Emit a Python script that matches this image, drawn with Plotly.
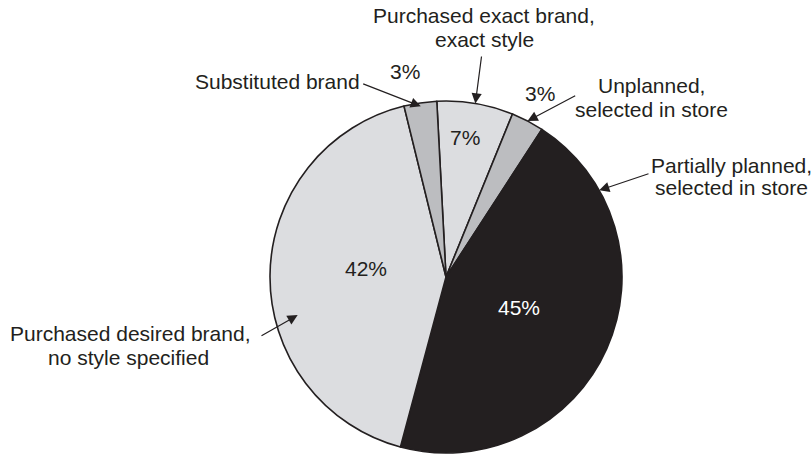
import math
import plotly.graph_objects as go

W, H = 811, 458

# Slices, listed clockwise starting just left of 12 o'clock
categories = [
    "Purchased exact brand, exact style",
    "Unplanned, selected in store",
    "Partially planned, selected in store",
    "Purchased desired brand, no style specified",
    "Substituted brand",
]
shares = [7, 3, 45, 42, 3]

# Text lines of each category callout
callout_lines = [
    ["Purchased exact brand,", "exact style"],
    ["Unplanned,", "selected in store"],
    ["Partially planned,", "selected in store"],
    ["Purchased desired brand,", "no style specified"],
    ["Substituted brand"],
]

# ---- styling / geometry -------------------------------------------------
INK = "#231f20"
fills = ["#dcdde0", "#bcbdc0", INK, "#dcdde0", "#bcbdc0"]
pct_colors = [INK, INK, "#ffffff", INK, INK]
pct_radius = [0.80, 1.17, 0.45, 0.46, 1.19]      # radial position of % labels
pct_shift = [-1.8, -0.4, -1.3, 5.6, -3.0]        # degrees off the slice middle

CX, CY, R = 446, 277, 176                         # pie centre / radius in px
START = -3                                        # angle of first slice edge
FONT = "Liberation Sans, Arial, Helvetica, sans-serif"
FS = 21

# callout placement: centres of each text line (px), arrow tip as
# (angle or None for slice middle, radius fraction), and arrow tail (px)
callout_text_pos = [
    [(484, 15.8), (484, 39.2)],
    [(651, 85.8), (651, 109.3)],
    [(731.5, 165.3), (731, 187.6)],
    [(130, 333.6), (128.5, 357.6)],
    [(277.5, 81.5)],
]
arrow_tip = [(None, 1.0), (None, 1.0), (60.5, 1.0), (255.6, 0.87), (None, 0.98)]
arrow_tail = [(481.7, 55), (576.7, 95), (650, 173.3), (260, 336.7), (361.7, 83.3)]


def px_to_paper(px, py):
    return px / W, 1 - py / H


def pie_px(angle_deg, frac):
    a = math.radians(angle_deg)
    return CX + frac * R * math.sin(a), CY - frac * R * math.cos(a)


total = sum(shares)
mid_angles = []
acc = 0.0
for v in shares:
    mid_angles.append(START + 360.0 * (acc + v / 2.0) / total)
    acc += v

fig = go.Figure()
fig.add_trace(go.Pie(
    labels=categories,
    values=shares,
    sort=False,
    direction="clockwise",
    rotation=START,
    marker=dict(colors=fills, line=dict(color=INK, width=1.6)),
    textinfo="none",
    hoverinfo="label+percent",
    showlegend=False,
    domain=dict(x=[(CX - R) / W, (CX + R) / W],
                y=[(H - CY - R) / H, (H - CY + R) / H]),
))

annotations = []

# percentage labels, positioned around each slice's middle angle
for v, ang, sh, fr, col in zip(shares, mid_angles, pct_shift, pct_radius, pct_colors):
    x, y = px_to_paper(*pie_px(ang + sh, fr))
    annotations.append(dict(
        x=x, y=y, xref="paper", yref="paper", text=f"{v}%", showarrow=False,
        xanchor="center", yanchor="middle",
        font=dict(family=FONT, size=FS, color=col),
    ))

# category callouts with arrows
for i, lines in enumerate(callout_lines):
    for line, (tx, ty) in zip(lines, callout_text_pos[i]):
        x, y = px_to_paper(tx, ty)
        annotations.append(dict(
            x=x, y=y, xref="paper", yref="paper", text=line, showarrow=False,
            xanchor="center", yanchor="middle",
            font=dict(family=FONT, size=FS, color=INK),
        ))
    ang, fr = arrow_tip[i]
    if ang is None:
        ang = mid_angles[i]
    tipx, tipy = pie_px(ang, fr)
    tailx, taily = arrow_tail[i]
    x, y = px_to_paper(tipx, tipy)
    annotations.append(dict(
        x=x, y=y, xref="paper", yref="paper", text="",
        showarrow=True, arrowhead=2, arrowsize=1.7, arrowwidth=1.2,
        arrowcolor=INK, standoff=0, startstandoff=0,
        ax=tailx - tipx, ay=taily - tipy,
    ))

fig.update_layout(
    width=W, height=H,
    margin=dict(l=0, r=0, t=0, b=0),
    paper_bgcolor="white",
    plot_bgcolor="white",
    annotations=annotations,
    font=dict(family=FONT, size=FS, color=INK),
)

fig.write_html("out.html")
